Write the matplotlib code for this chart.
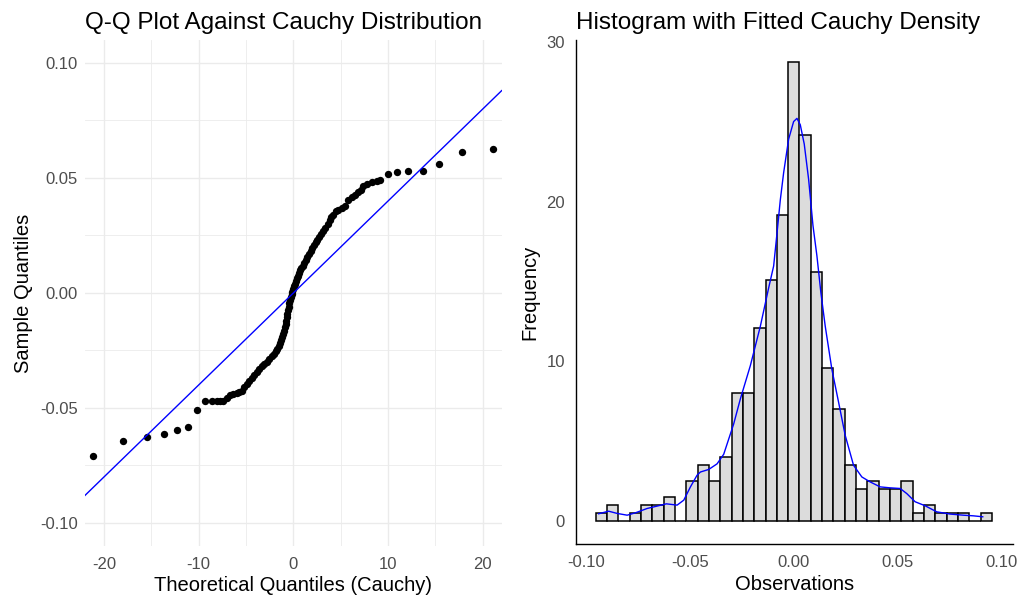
import matplotlib
matplotlib.use("Agg")
import matplotlib.pyplot as plt
import numpy as np

plt.rcParams['font.family'] = ['Liberation Sans', 'DejaVu Sans']
plt.rcParams['axes.unicode_minus'] = False

# Q-Q points (theoretical Cauchy quantile, sample quantile)
qq_theoretical = [-21.12, -17.95, -15.48, -13.65, -12.28, -11.09, -10.14, -9.33, -8.62, -8.09,
                  -7.75, -7.39, -7.05, -6.69, -6.35, -5.98, -5.72, -5.45, -5.19, -4.93,
                  -4.67, -4.40, -4.13, -3.87, -3.60, -3.34, -3.08, -2.81, -2.55, -2.28,
                  -2.07, -1.86, -1.70, -1.55, -1.42, -1.30, -1.19, -1.08, -0.99, -0.90,
                  -0.82, -0.75, -0.68, -0.62, -0.56, -0.50, -0.43, -0.35, -0.27, -0.18,
                  -0.09, 0.00, 0.09, 0.18, 0.29, 0.40, 0.50, 0.60, 0.73, 0.86,
                  0.99, 1.13, 1.30, 1.47, 1.65, 1.83, 2.00, 2.18, 2.35, 2.53,
                  2.74, 2.95, 3.15, 3.35, 3.62, 3.88, 4.02, 4.16, 4.51, 4.75,
                  5.11, 5.46, 5.81, 6.16, 6.52, 6.87, 7.15, 7.39, 7.81, 8.28,
                  8.81, 9.16, 9.97, 10.98, 12.08, 13.66, 15.39, 17.78, 21.05]
qq_sample = [-0.0707, -0.0642, -0.0625, -0.0613, -0.0594, -0.0583, -0.0507, -0.0471, -0.0471, -0.0471,
             -0.0471, -0.0468, -0.0455, -0.0442, -0.0439, -0.0435, -0.0430, -0.0425, -0.0410, -0.0396,
             -0.0383, -0.0370, -0.0356, -0.0343, -0.0331, -0.0319, -0.0310, -0.0300, -0.0288, -0.0276,
             -0.0265, -0.0254, -0.0242, -0.0230, -0.0218, -0.0205, -0.0193, -0.0180, -0.0165, -0.0150,
             -0.0135, -0.0120, -0.0105, -0.0090, -0.0075, -0.0060, -0.0045, -0.0030, -0.0018, -0.0005,
             0.0006, 0.0018, 0.0029, 0.0040, 0.0052, 0.0065, 0.0076, 0.0087, 0.0098, 0.0108,
             0.0119, 0.0130, 0.0143, 0.0155, 0.0168, 0.0181, 0.0194, 0.0207, 0.0220, 0.0232,
             0.0245, 0.0258, 0.0271, 0.0283, 0.0300, 0.0319, 0.0330, 0.0340, 0.0355, 0.0362,
             0.0370, 0.0377, 0.0406, 0.0417, 0.0427, 0.0437, 0.0446, 0.0467, 0.0474, 0.0481,
             0.0488, 0.0493, 0.0517, 0.0526, 0.0529, 0.0529, 0.0561, 0.0614, 0.0627]
qq_slope = 0.0040
qq_intercept = 0.0

# histogram (35 bins)
hist_lo, hist_hi = -0.0952, 0.0952
hist_counts = [1, 2, 0, 1, 2, 2, 3, 0, 5, 7, 5, 8, 16, 16, 24, 30, 38, 57, 48, 31,
               19, 14, 7, 4, 5, 4, 4, 5, 1, 2, 1, 1, 1, 0, 1]

# density curve
dens_x = [-0.0938, -0.0890, -0.0849, -0.0801, -0.0761, -0.0705, -0.0657, -0.0613, -0.0561, -0.0529,
          -0.0497, -0.0465, -0.0449, -0.0409, -0.0369, -0.0337, -0.0289, -0.0257, -0.0209, -0.0161,
          -0.0121, -0.0097, -0.0081, -0.0065, -0.0049, -0.0025, -0.0001, 0.0015, 0.0031, 0.0050,
          0.0071, 0.0092, 0.0111, 0.0130, 0.0151, 0.0183, 0.0215, 0.0247, 0.0287, 0.0327,
          0.0367, 0.0415, 0.0463, 0.0511, 0.0543, 0.0583, 0.0631, 0.0687, 0.0751, 0.0815,
          0.0863, 0.0908]
dens_y = [0.48, 0.64, 0.50, 0.39, 0.54, 0.81, 0.96, 1.10, 1.02, 1.33,
          2.16, 2.89, 3.09, 3.25, 3.60, 4.20, 6.10, 7.66, 9.74, 12.2,
          14.6, 15.97, 18.0, 20.1, 21.8, 23.9, 25.0, 25.2, 24.8, 23.6,
          21.4, 18.5, 16.6, 14.3, 12.2, 9.5, 7.46, 5.38, 3.51, 2.78,
          2.47, 2.16, 2.10, 2.06, 1.74, 1.23, 0.98, 0.60, 0.46, 0.39,
          0.35, 0.29]

W, H = 1020, 596
fig = plt.figure(figsize=(W / 100, H / 100), dpi=100)
grey30 = '#4D4D4D'

# ---- left: Q-Q plot ----
ax1 = fig.add_axes([85 / W, 1 - 546 / H, 416.7 / W, 506 / H])
ax1.scatter(qq_theoretical, qq_sample, s=28, color='black', linewidths=0, zorder=3)
ax1.axline((0, qq_intercept), slope=qq_slope, color='blue', lw=1.0, zorder=4)
ax1.set_xlim(-22, 22)
ax1.set_ylim(-0.11, 0.11)
ax1.set_xticks([-20, -10, 0, 10, 20])
ax1.set_xticks([-15, -5, 5, 15], minor=True)
ax1.set_yticks([-0.10, -0.05, 0.0, 0.05, 0.10])
ax1.set_yticks([-0.075, -0.025, 0.025, 0.075], minor=True)
ax1.set_yticklabels(['-0.10', '-0.05', '0.00', '0.05', '0.10'])
ax1.grid(True, which='major', color='#EBEBEB', lw=1.0)
ax1.grid(True, which='minor', color='#EBEBEB', lw=0.6)
ax1.set_axisbelow(True)
for s in ax1.spines.values():
    s.set_visible(False)
ax1.tick_params(which='both', length=0, labelsize=12, labelcolor=grey30)
ax1.tick_params(axis='x', pad=8)
ax1.tick_params(axis='y', pad=5)
ax1.set_xlabel('Theoretical Quantiles (Cauchy)', fontsize=14.5, labelpad=3)
ax1.set_ylabel('Sample Quantiles', fontsize=14.5, labelpad=5)
ax1.set_title('Q-Q Plot Against Cauchy Distribution', loc='left', fontsize=17.5, pad=8)

# ---- right: histogram with density ----
edges = np.linspace(hist_lo, hist_hi, len(hist_counts) + 1)
centers = (edges[:-1] + edges[1:]) / 2
ax2 = fig.add_axes([576 / W, 1 - 544.3 / H, 436.7 / W, 504.3 / H])
ax2.hist(centers, bins=edges, weights=hist_counts, density=True,
         color='#DCDCDC', edgecolor='black', linewidth=1.1)
ax2.plot(dens_x, dens_y, color='blue', lw=1.0)
ax2.set_xlim(-0.1047, 0.1052)
ax2.set_ylim(-1.43, 30.1)
ax2.set_xticks([-0.10, -0.05, 0.0, 0.05, 0.10])
ax2.set_xticklabels(['-0.10', '-0.05', '0.00', '0.05', '0.10'])
ax2.set_yticks([0, 10, 20, 30])
for side in ['top', 'right']:
    ax2.spines[side].set_visible(False)
for side in ['left', 'bottom']:
    ax2.spines[side].set_color('black')
    ax2.spines[side].set_linewidth(1.0)
ax2.tick_params(length=0, labelsize=12, labelcolor=grey30)
ax2.tick_params(axis='x', pad=8)
ax2.tick_params(axis='y', pad=8)
ax2.set_xlabel('Observations', fontsize=14.5, labelpad=3)
ax2.set_ylabel('Frequency', fontsize=14.5, labelpad=5)
ax2.set_title('Histogram with Fitted Cauchy Density', loc='left', fontsize=17.5, pad=8)

fig.savefig('out.png', dpi=100)
